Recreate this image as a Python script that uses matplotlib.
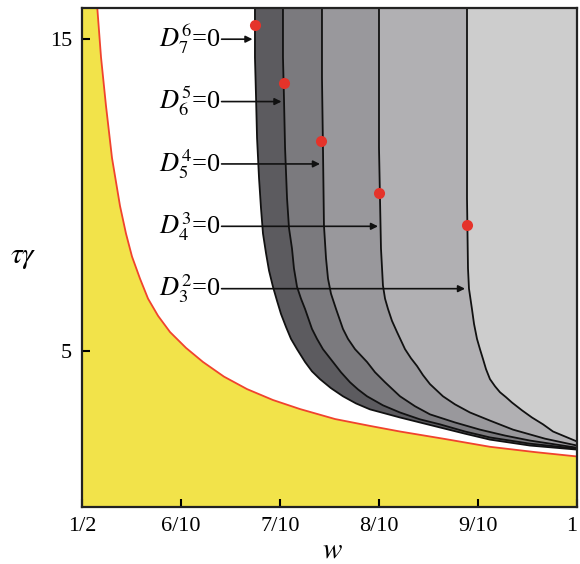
import matplotlib.pyplot as plt

plt.rcParams["font.family"] = ["Liberation Serif", "DejaVu Serif"]
plt.rcParams["mathtext.fontset"] = "stix"

# boundary of the yellow region (red curve)
red_w = [0.5152, 0.5192, 0.5242, 0.5303, 0.5384, 0.5444, 0.5505, 0.5586,
         0.5667, 0.5768, 0.5889, 0.6051, 0.6222, 0.6434, 0.6667, 0.6929,
         0.7202, 0.7556, 0.7909, 0.8212, 0.8667, 0.9121, 0.9576, 1.0]
red_t = [16.10, 14.42, 12.87, 11.19, 9.65, 8.77, 8.03, 7.32,
         6.68, 6.13, 5.61, 5.10, 4.65, 4.18, 3.78, 3.43,
         3.14, 2.82, 2.60, 2.42, 2.18, 1.93, 1.76, 1.62]

# D_{n+1}^{n} = 0 curves, from left (n=6) to right (n=2)
d76_w = [0.6747, 0.6747, 0.6758, 0.6768, 0.6788, 0.6808, 0.6828, 0.6859, 0.6889,
         0.6929, 0.6970, 0.7010, 0.7061, 0.7111, 0.7172, 0.7253, 0.7323, 0.7404,
         0.7515, 0.7636, 0.7768, 0.7909, 0.8061, 0.8212, 0.8414, 0.8616, 0.8869,
         0.9121, 0.9525, 1.0]
d76_t = [16.10, 14.42, 13.13, 11.84, 10.55, 9.58, 8.77, 8.13, 7.58,
         7.06, 6.61, 6.19, 5.77, 5.39, 5.06, 4.65, 4.35, 4.10,
         3.81, 3.55, 3.32, 3.13, 3.00, 2.87, 2.71, 2.55, 2.35,
         2.16, 1.97, 1.84]

d65_w = [0.7030, 0.7030, 0.7040, 0.7051, 0.7071, 0.7091, 0.7121, 0.7141, 0.7172,
         0.7212, 0.7253, 0.7323, 0.7374, 0.7434, 0.7535, 0.7616, 0.7707, 0.7788,
         0.7879, 0.8040, 0.8212, 0.8414, 0.8616, 0.8869, 0.9121, 0.9525, 1.0]
d65_t = [16.10, 14.42, 13.13, 11.52, 9.90, 8.94, 8.29, 7.65, 7.06,
         6.68, 6.35, 5.71, 5.39, 5.06, 4.65, 4.32, 4.00, 3.77,
         3.55, 3.26, 3.03, 2.81, 2.65, 2.42, 2.23, 2.03, 1.87]

d54_w = [0.7424, 0.7424, 0.7434, 0.7444, 0.7465, 0.7485, 0.7515, 0.7566, 0.7636,
         0.7687, 0.7758, 0.7879, 0.7960, 0.8061, 0.8212, 0.8364, 0.8515, 0.8768,
         0.9020, 0.9273, 0.9525, 1.0]
d54_t = [16.10, 13.77, 11.52, 9.03, 7.97, 7.32, 6.84, 6.35, 5.71,
         5.39, 5.06, 4.65, 4.32, 4.00, 3.55, 3.23, 2.97, 2.71,
         2.48, 2.29, 2.13, 1.90]

d43_w = [0.8000, 0.8000, 0.8010, 0.8020, 0.8040, 0.8061, 0.8091, 0.8131, 0.8182,
         0.8263, 0.8323, 0.8384, 0.8444, 0.8515, 0.8646, 0.8768, 0.8919, 0.9121,
         0.9354, 0.9677, 1.0]
d43_t = [16.10, 11.52, 9.90, 8.29, 7.10, 6.68, 6.35, 5.97, 5.61,
         5.06, 4.77, 4.52, 4.23, 3.94, 3.55, 3.29, 3.03, 2.77,
         2.48, 2.19, 1.97]

d32_w = [0.8889, 0.8889, 0.8899, 0.8909, 0.8939, 0.8960, 0.8990, 0.9020, 0.9051,
         0.9081, 0.9121, 0.9172, 0.9222, 0.9283, 0.9343, 0.9444, 0.9545, 0.9657,
         0.9758, 0.9879, 1.0]
d32_t = [16.10, 9.90, 7.65, 7.00, 6.35, 5.87, 5.39, 5.06, 4.74,
         4.42, 4.10, 3.87, 3.68, 3.52, 3.35, 3.10, 2.87, 2.65,
         2.42, 2.26, 2.10]

curves = [(d76_w, d76_t), (d65_w, d65_t), (d54_w, d54_t), (d43_w, d43_t), (d32_w, d32_t)]
band_colors = ["#5c5b5f", "#7b7a7e", "#99989c", "#b1b0b3", "#cdcdcd"]

# red dots on each curve
dot_w = [0.6747, 0.7040, 0.7414, 0.8000, 0.8889]
dot_t = [15.45, 13.58, 11.74, 10.06, 9.03]

# labels and arrows
labels = [r"$D_7^6$=0", r"$D_6^5$=0", r"$D_5^4$=0", r"$D_4^3$=0", r"$D_3^2$=0"]
arrow_t = [15.0, 13.0, 11.0, 9.0, 7.0]
arrow_tip_w = [0.6722, 0.7015, 0.7404, 0.7990, 0.8869]
label_w = 0.578
arrow_start_w = 0.641

xticks = [0.5, 0.6, 0.7, 0.8, 0.9, 1.0]
xticklabels = ["1/2", "6/10", "7/10", "8/10", "9/10", "1"]
yticks = [5, 15]

fig = plt.figure(figsize=(5.8, 5.64), dpi=100)
ax = fig.add_axes([0.1414, 0.1011, 0.8534, 0.8847])
ax.set_xlim(0.5, 1.0)
ax.set_ylim(0, 16)

# yellow region under the red curve
ax.fill([0.5, 0.5] + red_w + [1.0], [0, 16.2] + red_t + [0], color="#f2e34a", lw=0, zorder=1)
ax.plot(red_w, red_t, color="#f0432e", lw=1.3, zorder=3)

# gray bands, each one painted over the previous
for (cw, ct), col in zip(curves, band_colors):
    ax.fill(cw + [1.0], ct + [16.2], color=col, lw=0, zorder=2)
for cw, ct in curves:
    ax.plot(cw, ct, color="#111111", lw=1.3, zorder=4, solid_joinstyle="round")

for lab, at, tip in zip(labels, arrow_t, arrow_tip_w):
    ax.text(label_w, at, lab, fontsize=19, ha="left", va="center", zorder=6)
    ax.annotate("", xy=(tip, at), xytext=(arrow_start_w, at),
                arrowprops=dict(arrowstyle="-|>", color="#111111", lw=1.2,
                                mutation_scale=10, shrinkA=0, shrinkB=0),
                zorder=5)

ax.plot(dot_w, dot_t, "o", color="#e5332a", ms=8, mec="none", zorder=7)

ax.set_xticks(xticks)
ax.set_xticklabels(xticklabels)
ax.get_xticklabels()[-1].set_horizontalalignment("right")
ax.set_yticks(yticks)
ax.tick_params(direction="in", length=6, width=1.5, labelsize=16, pad=7,
               top=False, right=False)
for sp in ax.spines.values():
    sp.set_linewidth(1.6)
    sp.set_color("#222222")
    sp.set_zorder(8)

fig.text(23 / 580, 1 - 258 / 564, r"$\tau\gamma$", fontsize=21, ha="center", va="center")
fig.text(332 / 580, 1 - 551 / 564, r"$w$", fontsize=21, ha="center", va="center")

fig.savefig("out.png", dpi=100)
